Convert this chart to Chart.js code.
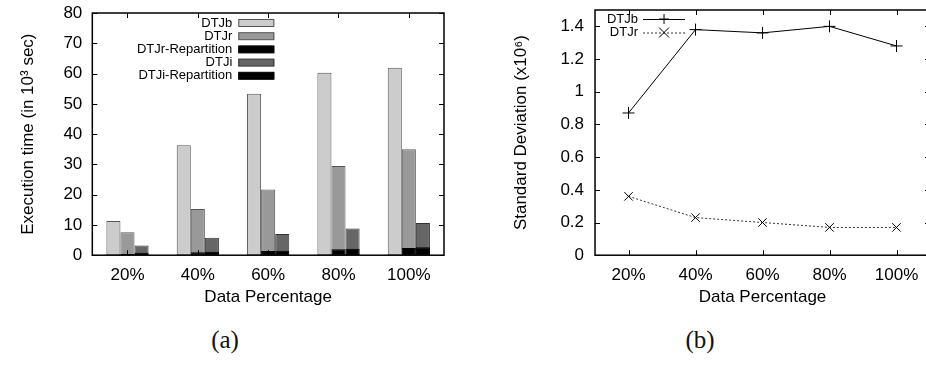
<!DOCTYPE html>
<html>
<head>
<meta charset="utf-8">
<script src="https://cdn.jsdelivr.net/npm/chart.js@4"></script>
<style>
  html, body { margin: 0; padding: 0; background: #fff; }
  body { width: 926px; height: 365px; overflow: hidden; position: relative; }
  canvas { position: absolute; top: 0; display: block; }
  #timeChart { left: 0; width: 463px; height: 312px; }
  #stdChart { left: 463px; width: 480px; height: 312px; }
  .cap { position: absolute; top: 326px; font-family: "Liberation Serif", "DejaVu Serif", serif;
         font-size: 25px; color: #111; width: 60px; text-align: center; }
</style>
</head>
<body>
<canvas id="timeChart" width="463" height="312"></canvas>
<canvas id="stdChart" width="480" height="312"></canvas>
<div class="cap" style="left:195px">(a)</div>
<div class="cap" style="left:670px">(b)</div>
<script>
// data
var categories   = ['20%', '40%', '60%', '80%', '100%'];
var dtjbTime     = [11.3, 36.3, 53.3, 60.3, 61.9];
var dtjrTime     = [7.6, 15.3, 21.7, 29.5, 35.0];
var dtjrRepTime  = [0.4, 1.0, 1.4, 2.0, 2.4];
var dtjiTime     = [3.2, 5.8, 7.0, 8.8, 10.6];
var dtjiRepTime  = [0.8, 1.1, 1.5, 2.1, 2.6];
var dtjbStd      = [0.87, 1.38, 1.36, 1.40, 1.28];
var dtjrStd      = [0.36, 0.23, 0.20, 0.17, 0.17];
var timeTicks    = [0, 10, 20, 30, 40, 50, 60, 70, 80];
var stdTicks     = [0, 0.2, 0.4, 0.6, 0.8, 1, 1.2, 1.4];

var FONT = 'Liberation Sans';
var FS = 17;
Chart.defaults.font.family = FONT;
Chart.defaults.color = '#000';

// gnuplot style box with inward ticks on all four sides
var framePlugin = {
    id: 'frame',
    afterDatasetsDraw: function(chart) {
        var ctx = chart.ctx, a = chart.chartArea;
        var xs = chart.scales.x, ys = chart.scales.y;
        var t = 5;
        ctx.save();
        ctx.strokeStyle = '#000';
        ctx.lineWidth = 1;
        ctx.beginPath();
        xs.ticks.forEach(function(tk, i) {
            var x = Math.round(xs.getPixelForTick(i)) + 0.5;
            ctx.moveTo(x, a.bottom); ctx.lineTo(x, a.bottom - t);
            ctx.moveTo(x, a.top);    ctx.lineTo(x, a.top + t);
        });
        ys.ticks.forEach(function(tk) {
            var y = Math.round(ys.getPixelForValue(tk.value)) + 0.5;
            ctx.moveTo(a.left, y);  ctx.lineTo(a.left + t, y);
            ctx.moveTo(a.right, y); ctx.lineTo(a.right - t, y);
        });
        ctx.stroke();
        ctx.lineWidth = 1.5;
        ctx.strokeRect(a.left, a.top, a.right - a.left, a.bottom - a.top);
        ctx.restore();
    }
};

// key drawn inside the plot, text right aligned with the sample on its right
var keyPlugin = {
    id: 'key',
    afterDraw: function(chart, args, opts) {
        var ctx = chart.ctx, a = chart.chartArea;
        var sets = chart.data.datasets;
        ctx.save();
        ctx.font = '13px ' + FONT;
        ctx.textAlign = 'right';
        ctx.textBaseline = 'middle';
        sets.forEach(function(ds, i) {
            var y = a.top + opts.top + i * opts.step;
            var xr = a.left + opts.textRight;
            ctx.fillStyle = '#000';
            ctx.fillText(ds.label, xr, y);
            var x0 = xr + opts.gap, x1 = x0 + opts.sample;
            if (opts.kind === 'box') {
                ctx.fillStyle = ds.backgroundColor;
                ctx.fillRect(x0, y - 3.5, x1 - x0, 7);
                ctx.strokeStyle = ds.borderColor;
                ctx.lineWidth = 1;
                ctx.strokeRect(x0 + 0.5, y - 3.5, x1 - x0 - 1, 7);
            } else {
                ctx.strokeStyle = ds.borderColor;
                ctx.lineWidth = 1;
                ctx.setLineDash(ds.borderDash || []);
                ctx.beginPath();
                ctx.moveTo(x0, y + 0.5); ctx.lineTo(x1, y + 0.5);
                ctx.stroke();
                ctx.setLineDash([]);
                var xm = (x0 + x1) / 2, r = 5;
                ctx.strokeStyle = '#000';
                ctx.beginPath();
                if (ds.pointStyle === 'cross') {
                    ctx.moveTo(xm - r, y); ctx.lineTo(xm + r, y);
                    ctx.moveTo(xm, y - r); ctx.lineTo(xm, y + r);
                } else {
                    ctx.moveTo(xm - r, y - r); ctx.lineTo(xm + r, y + r);
                    ctx.moveTo(xm - r, y + r); ctx.lineTo(xm + r, y - r);
                }
                ctx.stroke();
            }
        });
        ctx.restore();
    }
};

// let layout.padding.top alone decide where the plot box starts
function noEdgePad(s) { s.paddingTop = 0; s.paddingBottom = 0; }

function fixedTicks(list) {
    return function(s) {
        s.ticks = list.map(function(v) { return { value: v }; });
    };
}

function xAxis() {
    return {
        offset: true,
        grid: { display: false, drawTicks: false },
        border: { display: false },
        ticks: { padding: 9.5, font: { size: FS }, color: '#000' },
        title: { display: true, text: 'Data Percentage', font: { size: FS }, color: '#000',
                 padding: { top: -7, bottom: 0 } }
    };
}

var timeChart = new Chart(document.getElementById('timeChart'), {
    type: 'bar',
    data: {
        labels: categories,
        datasets: [
            { label: 'DTJb', data: dtjbTime, stack: 'b', order: 0,
              backgroundColor: '#cccccc', borderColor: '#555555' },
            { label: 'DTJr', data: dtjrTime, stack: 'r', order: 1,
              backgroundColor: '#999999', borderColor: '#555555' },
            { label: 'DTJr-Repartition', data: dtjrRepTime, stack: 'r', order: 0,
              backgroundColor: '#000000', borderColor: '#000000' },
            { label: 'DTJi', data: dtjiTime, stack: 'i', order: 1,
              backgroundColor: '#666666', borderColor: '#333333' },
            { label: 'DTJi-Repartition', data: dtjiRepTime, stack: 'i', order: 0,
              backgroundColor: '#000000', borderColor: '#000000' }
        ]
    },
    options: {
        responsive: false,
        animation: false,
        datasets: { bar: { categoryPercentage: 0.6, barPercentage: 1.0,
                           borderWidth: 1, borderSkipped: false } },
        layout: { padding: { left: 15, right: 19, top: 13, bottom: 4 } },
        scales: {
            x: Object.assign(xAxis(), { stacked: true }),
            y: {
                stacked: false,
                min: 0, max: 80,
                afterFit: noEdgePad,
                afterBuildTicks: fixedTicks(timeTicks),
                grid: { display: false, drawTicks: false },
                border: { display: false },
                ticks: { padding: 10, font: { size: FS }, color: '#000' },
                title: { display: true, text: 'Execution time (in 10\u00b3 sec)',
                         font: { size: FS }, color: '#000', padding: { top: 3, bottom: 15 } }
            }
        },
        plugins: {
            legend: { display: false },
            tooltip: { enabled: false },
            key: { kind: 'box', top: 10, step: 13.2, textRight: 140, gap: 6, sample: 36 }
        }
    },
    plugins: [framePlugin, keyPlugin]
});

var stdChart = new Chart(document.getElementById('stdChart'), {
    type: 'line',
    data: {
        labels: categories,
        datasets: [
            { label: 'DTJb', data: dtjbStd, borderColor: '#000', borderWidth: 1,
              pointStyle: 'cross', pointRadius: 6, pointBorderColor: '#000',
              pointBorderWidth: 1, fill: false, tension: 0 },
            { label: 'DTJr', data: dtjrStd, borderColor: '#333', borderWidth: 1,
              borderDash: [2, 2], pointStyle: 'crossRot', pointRadius: 6,
              pointBorderColor: '#000', pointBorderWidth: 1, fill: false, tension: 0 }
        ]
    },
    options: {
        responsive: false,
        animation: false,
        layout: { padding: { left: 44, right: 13, top: 10, bottom: 4 } },
        scales: {
            x: xAxis(),
            y: {
                min: 0, max: 1.5,
                afterFit: noEdgePad,
                afterBuildTicks: fixedTicks(stdTicks),
                grid: { display: false, drawTicks: false },
                border: { display: false },
                ticks: { padding: 11, font: { size: FS }, color: '#000',
                         callback: function(v) { return String(v); } },
                title: { display: true, text: 'Standard Deviation (x10\u2076)',
                         font: { size: FS }, color: '#000', padding: { top: 4, bottom: 18 } }
            }
        },
        plugins: {
            legend: { display: false },
            tooltip: { enabled: false },
            key: { kind: 'line', top: 9, step: 13.5, textRight: 43, gap: 5, sample: 42 }
        }
    },
    plugins: [framePlugin, keyPlugin]
});
</script>
</body>
</html>
